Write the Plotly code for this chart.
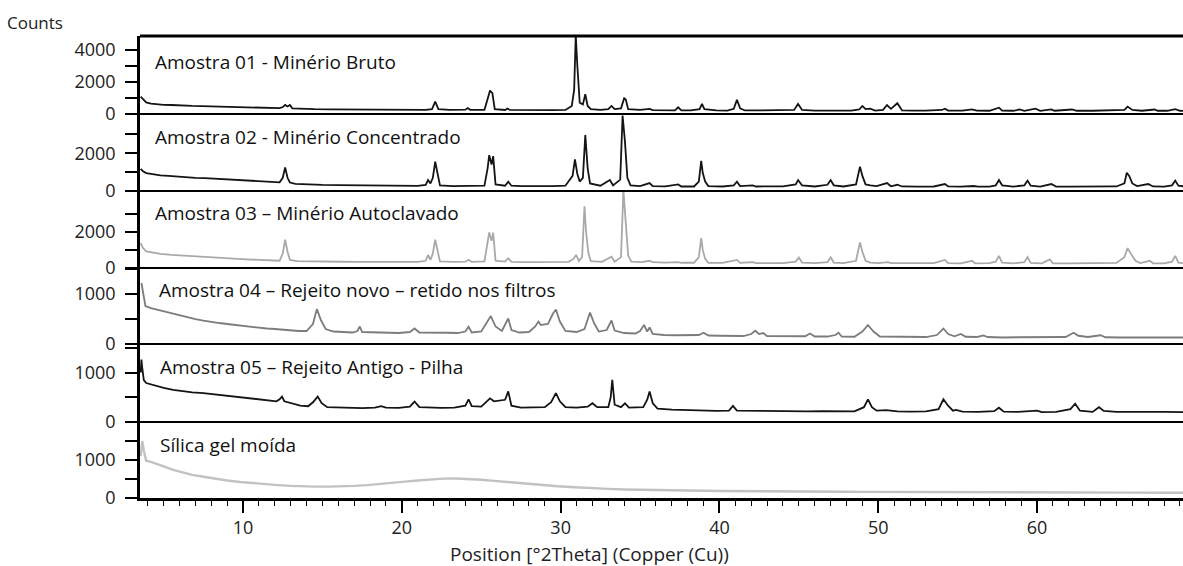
import plotly.graph_objects as go

# XRD patterns, (2theta, counts) vertices per sample
sample_titles = [
    "Amostra 01 - Minério Bruto",
    "Amostra 02 - Minério Concentrado",
    "Amostra 03 – Minério Autoclavado",
    "Amostra 04 – Rejeito novo – retido nos filtros",
    "Amostra 05 – Rejeito Antigo - Pilha",
    "Sílica gel moída",
]

amostra_01 = [
    (3.55, 1080), (3.7, 900), (3.9, 720), (4.2, 640), (4.6, 600), (5.0, 570), (5.5, 560), (5.8, 540),
    (6.3, 520), (6.8, 500), (7.4, 490), (8.0, 470), (8.6, 455), (9.2, 440), (9.8, 430), (10.5, 410),
    (11.2, 390), (11.8, 370), (12.3, 360), (12.5, 430), (12.65, 560), (12.8, 470), (12.95, 560),
    (13.1, 350), (13.6, 320), (14.5, 300), (15.5, 290), (16.5, 280), (17.5, 270), (18.5, 265),
    (19.5, 260), (20.5, 255), (21.5, 250), (21.9, 300), (22.1, 770), (22.3, 300), (23.0, 250),
    (24.0, 270), (24.15, 370), (24.3, 260), (25.2, 260), (25.45, 1100), (25.55, 1460), (25.7, 1300),
    (25.85, 300), (26.5, 250), (26.65, 340), (26.8, 250), (27.5, 240), (28.5, 240), (29.5, 240),
    (30.3, 250), (30.7, 500), (30.85, 1500), (30.95, 4900), (31.05, 3000), (31.2, 700), (31.4, 600),
    (31.55, 1230), (31.7, 500), (31.9, 300), (32.5, 260), (33.0, 300), (33.2, 500), (33.4, 300),
    (33.8, 350), (34.0, 980), (34.1, 900), (34.25, 300), (35.0, 250), (35.6, 320), (35.8, 240),
    (36.5, 230), (37.2, 230), (37.4, 420), (37.6, 230), (38.2, 225), (38.75, 300), (38.9, 625),
    (39.05, 300), (39.8, 220), (40.5, 215), (40.9, 320), (41.1, 875), (41.3, 350), (41.6, 220),
    (42.3, 220), (43.0, 230), (43.8, 215), (44.7, 250), (44.95, 625), (45.2, 250), (46.0, 215),
    (46.8, 220), (47.5, 210), (48.3, 210), (48.8, 280), (49.0, 500), (49.2, 300), (49.5, 330),
    (49.8, 210), (50.3, 260), (50.55, 560), (50.8, 320), (51.2, 670), (51.5, 220), (52.2, 210),
    (53.0, 205), (54.0, 250), (54.2, 330), (54.4, 210), (55.3, 205), (55.9, 290), (56.2, 205),
    (57.0, 200), (57.6, 390), (57.8, 205), (58.5, 200), (58.9, 280), (59.2, 200), (59.9, 330),
    (60.2, 200), (60.9, 290), (61.1, 200), (62.2, 280), (62.5, 200), (63.5, 200), (64.5, 210),
    (65.5, 250), (65.7, 460), (66.0, 250), (66.6, 200), (67.4, 280), (67.6, 200), (68.2, 200),
    (68.7, 300), (69.0, 200), (69.3, 195),
]

amostra_02 = [
    (3.55, 1170), (3.7, 1050), (3.9, 950), (4.3, 880), (4.8, 830), (5.3, 800), (5.8, 760), (6.4, 730),
    (7.0, 700), (7.6, 680), (8.2, 650), (8.8, 620), (9.4, 600), (10.0, 570), (10.6, 540), (11.2, 510),
    (11.8, 480), (12.3, 460), (12.5, 700), (12.65, 1250), (12.8, 700), (12.95, 450), (13.3, 380),
    (14.0, 340), (15.0, 320), (16.0, 310), (17.0, 300), (18.0, 290), (19.0, 280), (20.0, 270),
    (21.0, 270), (21.5, 320), (21.65, 580), (21.8, 400), (21.95, 700), (22.1, 1550), (22.25, 900),
    (22.4, 300), (23.2, 260), (24.2, 260), (25.2, 280), (25.4, 1200), (25.5, 1900), (25.65, 1400),
    (25.75, 1850), (25.9, 350), (26.5, 280), (26.7, 490), (26.9, 280), (27.5, 260), (28.5, 250),
    (29.5, 260), (30.3, 280), (30.75, 800), (30.9, 1680), (31.05, 900), (31.2, 500), (31.4, 700),
    (31.55, 2970), (31.7, 1200), (31.85, 400), (32.5, 280), (33.1, 580), (33.3, 300), (33.75, 600),
    (33.9, 4000), (34.05, 2600), (34.2, 700), (34.4, 300), (35.0, 260), (35.6, 420), (35.8, 260),
    (36.6, 250), (37.4, 350), (37.6, 240), (38.4, 240), (38.7, 500), (38.85, 1600), (38.95, 950),
    (39.1, 500), (39.3, 260), (40.2, 240), (40.9, 300), (41.1, 490), (41.3, 260), (42.1, 300),
    (42.3, 240), (43.2, 240), (44.0, 250), (44.8, 350), (44.95, 580), (45.2, 300), (46.0, 240),
    (46.8, 330), (47.0, 580), (47.2, 300), (47.8, 240), (48.6, 350), (48.85, 1290), (49.0, 800),
    (49.2, 350), (49.5, 300), (49.9, 260), (50.55, 420), (50.8, 250), (51.2, 330), (51.5, 240),
    (52.5, 235), (53.5, 240), (54.2, 370), (54.4, 240), (55.2, 230), (56.0, 265), (56.3, 230),
    (57.0, 235), (57.4, 300), (57.6, 580), (57.8, 300), (58.5, 235), (59.2, 300), (59.4, 550),
    (59.6, 280), (60.2, 235), (60.9, 370), (61.2, 235), (62.0, 230), (63.0, 235), (64.0, 230),
    (65.0, 240), (65.5, 400), (65.65, 970), (65.8, 800), (66.0, 400), (66.3, 260), (67.0, 370),
    (67.3, 240), (68.0, 235), (68.5, 300), (68.7, 550), (68.9, 280), (69.3, 240),
]

amostra_03 = [
    (3.55, 1370), (3.7, 1100), (3.9, 920), (4.3, 850), (4.8, 780), (5.5, 720), (6.2, 680), (7.0, 640),
    (7.8, 600), (8.6, 560), (9.4, 520), (10.2, 480), (11.0, 450), (11.7, 420), (12.3, 400), (12.5, 800),
    (12.65, 1560), (12.8, 900), (12.95, 450), (13.4, 380), (14.2, 360), (15.2, 350), (16.2, 345),
    (17.2, 340), (18.2, 340), (19.2, 340), (20.2, 335), (21.0, 340), (21.5, 400), (21.65, 720),
    (21.8, 450), (21.95, 800), (22.1, 1560), (22.25, 900), (22.4, 360), (23.2, 340), (24.0, 350),
    (24.2, 450), (24.4, 340), (25.2, 360), (25.4, 1300), (25.5, 1960), (25.65, 1500), (25.75, 1950),
    (25.9, 400), (26.5, 350), (26.7, 540), (26.9, 340), (27.7, 330), (28.7, 330), (29.7, 335),
    (30.5, 340), (30.8, 500), (30.97, 720), (31.15, 380), (31.35, 600), (31.5, 3410), (31.6, 2000),
    (31.75, 800), (31.9, 380), (32.6, 340), (33.2, 630), (33.4, 350), (33.8, 600), (33.95, 4300),
    (34.1, 2500), (34.25, 700), (34.45, 350), (35.1, 330), (35.6, 400), (35.8, 320), (36.6, 300),
    (37.4, 330), (37.6, 290), (38.4, 290), (38.7, 600), (38.85, 1650), (38.95, 1000), (39.1, 500),
    (39.3, 290), (40.2, 280), (41.1, 445), (41.3, 280), (42.1, 330), (42.3, 275), (43.2, 270),
    (44.0, 275), (44.8, 350), (45.0, 575), (45.2, 300), (46.0, 270), (46.8, 320), (47.0, 590),
    (47.2, 300), (47.8, 270), (48.6, 400), (48.85, 1410), (49.0, 900), (49.2, 400), (49.5, 300),
    (50.0, 270), (50.6, 320), (50.8, 265), (51.5, 270), (52.5, 265), (53.5, 265), (54.2, 445),
    (54.4, 265), (55.2, 260), (55.9, 400), (56.1, 260), (57.0, 265), (57.4, 350), (57.6, 670),
    (57.8, 300), (58.5, 260), (59.2, 320), (59.4, 600), (59.6, 280), (60.3, 260), (60.8, 480),
    (61.0, 260), (62.0, 260), (63.0, 265), (64.0, 260), (65.0, 280), (65.5, 600), (65.7, 1100),
    (65.9, 800), (66.2, 400), (66.5, 270), (67.1, 400), (67.3, 260), (68.0, 260), (68.5, 350),
    (68.7, 670), (68.9, 300), (69.3, 260),
]

amostra_04 = [
    (3.6, 1220), (3.7, 1000), (3.85, 760), (4.2, 720), (4.7, 680), (5.2, 640), (5.6, 600), (6.0, 570),
    (6.5, 540), (7.0, 500), (7.5, 470), (8.0, 440), (8.5, 420), (9.0, 400), (9.5, 380), (10.0, 360),
    (10.5, 345), (11.0, 330), (11.5, 310), (12.0, 300), (12.5, 285), (13.0, 270), (13.5, 260),
    (14.0, 260), (14.4, 400), (14.65, 700), (14.9, 480), (15.2, 300), (15.7, 250), (16.3, 240),
    (16.9, 230), (17.2, 260), (17.35, 350), (17.5, 240), (18.2, 230), (19.0, 225), (19.8, 220),
    (20.5, 240), (20.8, 310), (21.1, 230), (22.0, 220), (22.8, 225), (23.5, 220), (24.0, 250),
    (24.2, 345), (24.4, 230), (25.0, 250), (25.3, 400), (25.6, 560), (25.9, 350), (26.3, 260),
    (26.55, 420), (26.7, 510), (26.9, 280), (27.4, 230), (28.0, 240), (28.4, 350), (28.6, 450),
    (28.75, 380), (28.9, 390), (29.2, 400), (29.5, 600), (29.7, 690), (29.95, 450), (30.3, 260),
    (31.0, 240), (31.5, 300), (31.85, 630), (32.1, 420), (32.4, 250), (32.9, 280), (33.2, 470),
    (33.4, 270), (34.0, 220), (34.7, 210), (35.0, 260), (35.25, 380), (35.45, 250), (35.6, 330),
    (35.8, 200), (36.5, 180), (37.3, 175), (38.0, 175), (38.7, 180), (39.0, 225), (39.3, 170),
    (40.0, 165), (40.8, 165), (41.5, 160), (42.0, 200), (42.25, 265), (42.5, 200), (42.75, 220),
    (43.0, 160), (43.8, 155), (44.6, 155), (45.4, 155), (45.7, 210), (46.0, 150), (46.8, 150),
    (47.3, 180), (47.5, 225), (47.7, 150), (48.5, 145), (49.0, 250), (49.35, 380), (49.7, 250),
    (50.1, 150), (51.0, 145), (52.0, 145), (53.0, 140), (53.7, 180), (54.1, 310), (54.4, 200),
    (54.8, 155), (55.2, 200), (55.5, 145), (56.2, 140), (56.6, 170), (56.9, 140), (57.8, 130),
    (58.8, 135), (59.8, 135), (60.8, 135), (61.8, 140), (62.1, 190), (62.3, 225), (62.6, 165),
    (63.2, 140), (64.0, 175), (64.3, 135), (65.2, 130), (66.2, 135), (67.2, 125), (68.2, 130),
    (69.3, 130),
]

amostra_05 = [
    (3.55, 1000), (3.6, 1265), (3.65, 1100), (3.75, 850), (3.9, 790), (4.4, 740), (5.0, 690), (5.6, 650),
    (6.2, 620), (6.8, 600), (7.5, 585), (8.2, 560), (8.9, 540), (9.6, 515), (10.3, 495), (11.0, 460),
    (11.6, 440), (12.1, 420), (12.3, 460), (12.45, 515), (12.6, 420), (13.0, 380), (13.6, 330),
    (14.1, 320), (14.4, 400), (14.7, 515), (14.95, 380), (15.3, 300), (16.0, 290), (16.8, 285),
    (17.5, 280), (18.3, 290), (18.7, 320), (19.0, 290), (19.8, 285), (20.5, 310), (20.8, 415),
    (21.1, 300), (21.8, 285), (22.5, 285), (23.3, 290), (24.0, 330), (24.2, 460), (24.4, 320),
    (25.0, 310), (25.3, 400), (25.55, 480), (25.8, 420), (26.2, 435), (26.5, 450), (26.7, 620),
    (26.9, 330), (27.5, 290), (28.3, 290), (29.0, 300), (29.4, 400), (29.7, 585), (29.95, 420),
    (30.3, 300), (31.0, 290), (31.7, 310), (32.0, 380), (32.3, 300), (33.0, 300), (33.15, 500),
    (33.25, 855), (33.4, 350), (33.8, 300), (34.05, 380), (34.3, 290), (35.2, 300), (35.45, 450),
    (35.6, 620), (35.8, 380), (36.1, 270), (37.0, 250), (38.0, 240), (39.0, 230), (39.8, 225),
    (40.6, 230), (40.85, 325), (41.1, 230), (42.0, 225), (42.8, 235), (43.5, 220), (44.5, 225),
    (45.5, 215), (46.5, 220), (47.5, 210), (48.5, 215), (49.1, 300), (49.35, 460), (49.6, 300),
    (49.9, 230), (50.5, 240), (51.2, 215), (52.0, 210), (53.0, 215), (53.8, 260), (54.1, 460),
    (54.4, 330), (54.7, 230), (54.9, 245), (55.3, 210), (56.3, 205), (57.3, 220), (57.6, 290),
    (57.9, 210), (58.8, 205), (59.8, 215), (60.0, 230), (60.3, 200), (61.2, 205), (62.1, 260),
    (62.4, 370), (62.7, 230), (63.5, 205), (63.9, 300), (64.2, 225), (65.0, 205), (66.0, 210),
    (67.0, 200), (68.0, 205), (69.3, 200),
]

silica_gel = [
    (3.55, 1100), (3.65, 1500), (3.75, 1250), (3.9, 980), (4.2, 950), (4.6, 900), (5.0, 830), (5.6, 740),
    (6.2, 670), (6.8, 610), (7.5, 560), (8.2, 510), (9.0, 460), (9.8, 420), (10.6, 390), (11.4, 360),
    (12.2, 340), (13.0, 320), (13.8, 305), (14.6, 300), (15.4, 300), (16.2, 305), (17.0, 320),
    (17.8, 340), (18.6, 365), (19.4, 395), (20.2, 430), (21.0, 460), (21.8, 490), (22.6, 510),
    (23.4, 515), (24.2, 500), (25.0, 480), (25.8, 450), (26.6, 420), (27.4, 390), (28.2, 360),
    (29.0, 335), (29.8, 310), (30.6, 290), (31.4, 270), (32.2, 255), (33.0, 240), (34.0, 225),
    (35.0, 215), (36.0, 205), (37.0, 200), (38.0, 195), (39.0, 190), (40.0, 185), (41.0, 180),
    (42.0, 178), (43.0, 175), (44.0, 172), (45.0, 170), (46.0, 168), (47.0, 165), (48.0, 163),
    (49.0, 160), (50.0, 158), (52.0, 155), (54.0, 152), (56.0, 150), (58.0, 148), (60.0, 146),
    (62.0, 145), (64.0, 143), (66.0, 142), (68.0, 140), (69.3, 140),
]

samples = [amostra_01, amostra_02, amostra_03, amostra_04, amostra_05, silica_gel]

# per-panel y scale and ticks
count_max = [4850, 4080, 4250, 1520, 1580, 2000]
y_tickvals = [
    [0, 1000, 2000, 3000, 4000],
    [0, 1000, 2000, 3000],
    [0, 1000, 2000, 3000],
    [0, 500, 1000, 1500],
    [0, 500, 1000, 1500],
    [0, 500, 1000, 1500],
]
y_ticktext = [
    ["0", "", "2000", "", "4000"],
    ["0", "", "2000", ""],
    ["0", "", "2000", ""],
    ["0", "", "1000", ""],
    ["0", "", "1000", ""],
    ["0", "", "1000", ""],
]
x_tickvals = [10, 20, 30, 40, 50, 60]
x_range = [3.51, 69.19]

line_colors = ["#141414", "#141414", "#a9a9a9", "#7c7c7c", "#141414", "#c2c2c2"]
line_widths = [1.8, 1.8, 1.8, 1.8, 1.8, 2.4]

# panel boundaries (paper coordinates), top to bottom
bounds = [1.0, 0.8312, 0.6645, 0.4978, 0.3333, 0.1645, 0.0]
title_y = [0.9437, 0.7814, 0.6169, 0.4502, 0.2835, 0.1147]
title_x = [0.0125, 0.0125, 0.0125, 0.016, 0.017, 0.017]

TEXT = "#222222"
FONT = "Open Sans"

fig = go.Figure()

for i, pts in enumerate(samples):
    axis_no = 6 - i
    yname = "y" if axis_no == 1 else f"y{axis_no}"
    fig.add_trace(go.Scatter(
        x=[p[0] for p in pts], y=[p[1] for p in pts],
        xaxis="x", yaxis=yname, mode="lines",
        line=dict(color=line_colors[i], width=line_widths[i]),
        showlegend=False, hoverinfo="skip",
    ))
    key = "yaxis" if axis_no == 1 else f"yaxis{axis_no}"
    fig.update_layout({key: dict(
        domain=[bounds[i + 1], bounds[i]], anchor="x",
        range=[0, count_max[i]], tickmode="array",
        tickvals=y_tickvals[i], ticktext=y_ticktext[i],
        ticks="outside", ticklen=12, tickwidth=1.5, tickcolor="black",
        showline=True, linecolor="black", linewidth=2.5,
        showgrid=False, zeroline=False, automargin=False,
        tickfont=dict(family=FONT, size=18, color=TEXT),
        ticklabelstandoff=6,
    )})
    fig.add_annotation(
        x=title_x[i], y=title_y[i], xref="paper", yref="paper",
        xanchor="left", yanchor="middle", showarrow=False,
        text=sample_titles[i], font=dict(family=FONT, size=19, color="#111111"),
    )

fig.update_layout(
    xaxis=dict(
        domain=[0, 1], anchor="y", range=x_range,
        tickmode="array", tickvals=x_tickvals,
        ticks="outside", ticklen=12, tickwidth=1.5, tickcolor="black",
        minor=dict(dtick=1, tick0=0, ticks="outside", ticklen=5, tickwidth=1.3, tickcolor="black"),
        showline=True, linecolor="black", linewidth=2.5,
        showgrid=False, zeroline=False, automargin=False,
        tickfont=dict(family=FONT, size=18, color=TEXT),
        ticklabelstandoff=0,
    ),
    width=1183, height=566,
    margin=dict(l=140, r=0, t=36, b=68),
    paper_bgcolor="white", plot_bgcolor="white",
)

# panel separators and top frame
for b in bounds[1:-1]:
    fig.add_shape(type="line", xref="paper", yref="paper", x0=0, x1=1, y0=b, y1=b,
                  line=dict(color="black", width=2))
fig.add_shape(type="line", xref="paper", yref="paper", x0=0, x1=1, y0=1, y1=1,
              line=dict(color="black", width=3))

fig.add_annotation(x=-0.1294, y=1.0303, xref="paper", yref="paper", xanchor="left",
                   yanchor="middle", showarrow=False, text="Counts",
                   font=dict(family=FONT, size=17, color=TEXT))
fig.add_annotation(x=(589 - 140) / 1043, y=(498 - 554) / 462, xref="paper", yref="paper",
                   xanchor="center", yanchor="middle", showarrow=False,
                   text="Position [°2Theta] (Copper (Cu))",
                   font=dict(family=FONT, size=19, color=TEXT))

fig.write_html("out.html")
